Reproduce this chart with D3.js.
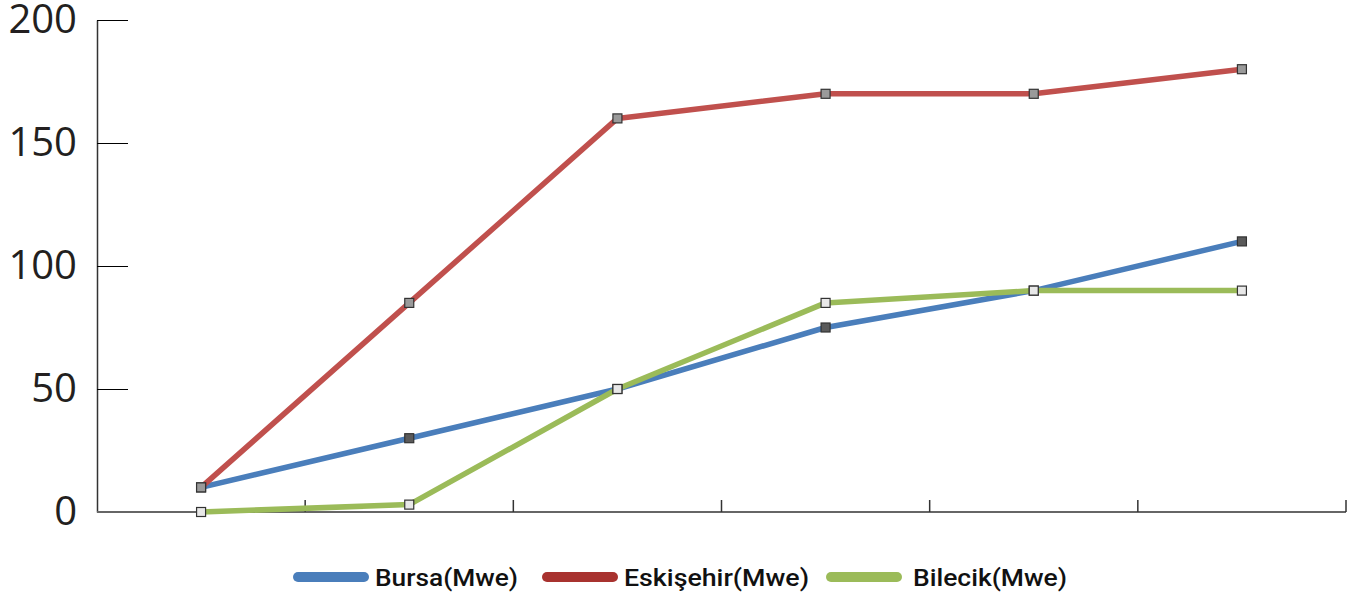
<!DOCTYPE html>
<html>
<head>
<meta charset="utf-8">
<script src="https://cdn.jsdelivr.net/npm/d3@7"></script>
<style>
  html, body { margin: 0; padding: 0; background: #fff; }
  svg { display: block; }
  .ytick text { font-family: "Open Sans", "Noto Sans", sans-serif; font-size: 40px; fill: #231f20; }
  .legend text { font-family: Roboto, "Noto Sans", sans-serif; font-size: 24px; font-weight: 500; fill: #111; }
</style>
</head>
<body>
<div id="chart"></div>
<script>
// --- data ---
const categories = ['1', '2', '3', '4', '5', '6'];
const bursa = [10, 30, 50, 75, 90, 110];
const eskisehir = [10, 85, 160, 170, 170, 180];
const bilecik = [0, 3, 50, 85, 90, 90];
const yTicks = [0, 50, 100, 150, 200];

const series = [
  { name: 'Bursa(Mwe)', values: bursa, color: '#4a7ebb', legend: '#4a7ebb', marker: '#5a5a5a' },
  { name: 'Eskişehir(Mwe)', values: eskisehir, color: '#c0504d', legend: '#a8322f', marker: '#9a9a9a' },
  { name: 'Bilecik(Mwe)', values: bilecik, color: '#9bbb59', legend: '#9bbb59', marker: '#e8e8e8' },
];

const W = 1356, H = 592;
const margin = { top: 20, right: 10, bottom: 80, left: 97 };

const svg = d3.select('#chart').append('svg')
  .attr('width', W).attr('height', H);

const x = d3.scaleBand().domain(categories).range([margin.left, 1346]).padding(0);
const y = d3.scaleLinear().domain([0, 200]).range([512, margin.top]);
const cx = c => x(c) + x.bandwidth() / 2;

// y axis
const yAxis = svg.append('g').attr('transform', `translate(${margin.left},0)`)
  .call(d3.axisLeft(y).tickValues(yTicks).tickSizeInner(-31).tickSizeOuter(0).tickPadding(20));
yAxis.select('.domain').attr('stroke', '#333').attr('stroke-width', 1.5);
yAxis.selectAll('.tick').attr('class', 'ytick');
yAxis.selectAll('.tick line').attr('stroke', '#333').attr('stroke-width', 1.5);
yAxis.selectAll('.tick text').attr('dy', '0.38em');

// x axis: line plus ticks at the band edges
svg.append('line')
  .attr('x1', margin.left).attr('x2', x.range()[1])
  .attr('y1', y(0)).attr('y2', y(0))
  .attr('stroke', '#666').attr('stroke-width', 2);
svg.selectAll('.xtick').data(categories)
  .join('line').attr('class', 'xtick')
  .attr('x1', d => x(d) + x.bandwidth()).attr('x2', d => x(d) + x.bandwidth())
  .attr('y1', y(0)).attr('y2', y(0) - 12)
  .attr('stroke', '#333').attr('stroke-width', 1.5);

// lines
const line = d3.line().x((d, i) => cx(categories[i])).y(d => y(d));
series.forEach(s => {
  svg.append('path').datum(s.values)
    .attr('d', line)
    .attr('fill', 'none')
    .attr('stroke', s.color)
    .attr('stroke-width', 5.5)
    .attr('stroke-linejoin', 'round');
});

// markers
const mk = 9;
series.forEach(s => {
  svg.selectAll(null).data(s.values)
    .join('rect')
    .attr('x', (d, i) => cx(categories[i]) - mk / 2)
    .attr('y', d => y(d) - mk / 2)
    .attr('width', mk).attr('height', mk)
    .attr('fill', s.marker)
    .attr('stroke', '#333').attr('stroke-width', 1.2);
});

// legend
const legendX = [298, 547, 831];
const textW = [143, 185, 154];
const legend = svg.append('g').attr('class', 'legend');
series.forEach((s, i) => {
  const g = legend.append('g').attr('transform', `translate(${legendX[i]},577)`);
  g.append('line').attr('x1', 0).attr('x2', 66).attr('y1', 0).attr('y2', 0)
    .attr('stroke', s.legend).attr('stroke-width', 10).attr('stroke-linecap', 'round');
  g.append('text').attr('x', i === 2 ? 82 : 77).attr('y', 0).attr('dy', '0.36em')
    .attr('textLength', textW[i]).attr('lengthAdjust', 'spacingAndGlyphs')
    .text(s.name);
});
</script>
</body>
</html>
